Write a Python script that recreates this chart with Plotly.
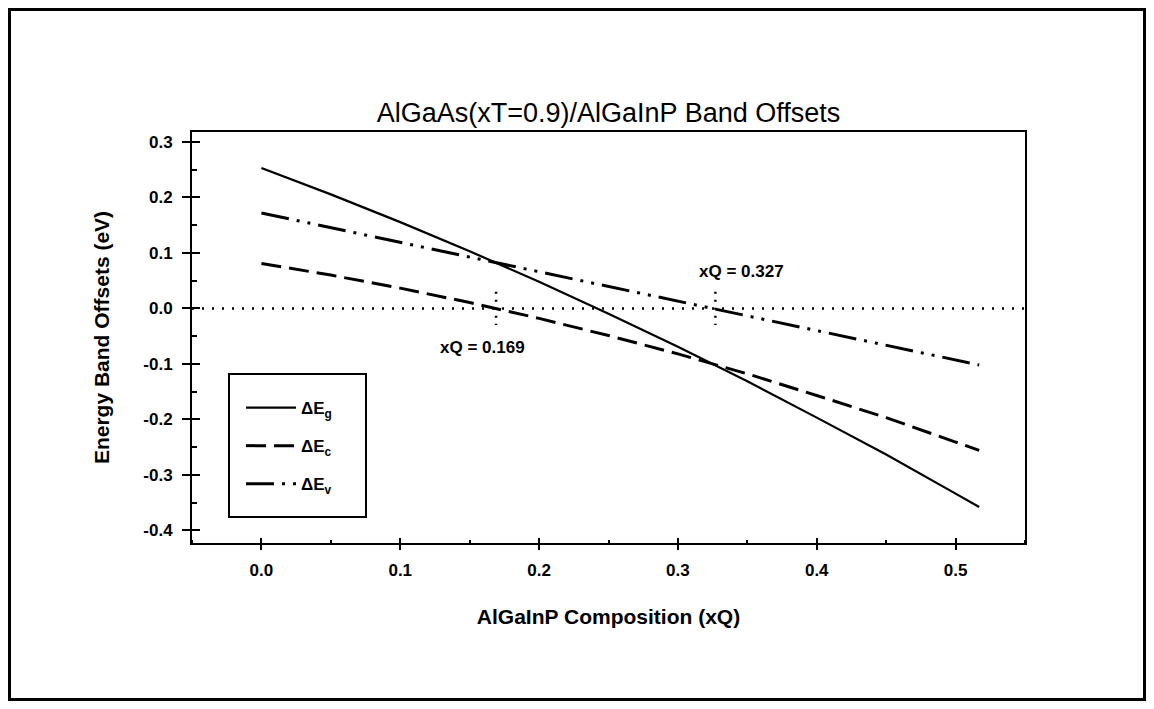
import plotly.graph_objects as go

# ---- data ----
xq = [0.0, 0.05, 0.1, 0.15, 0.2, 0.25, 0.3, 0.35, 0.4, 0.45, 0.5, 0.517]
dEg = [0.253, 0.2055, 0.1555, 0.103, 0.048, -0.0095, -0.069, -0.1315, -0.197, -0.2635, -0.334, -0.358]
dEc = [0.081, 0.060, 0.0365, 0.0105, -0.018, -0.049, -0.082, -0.118, -0.157, -0.197, -0.241, -0.256]
dEv = [0.172, 0.1455, 0.119, 0.0925, 0.066, 0.0395, 0.013, -0.0135, -0.040, -0.0665, -0.093, -0.102]
names = ["ΔE<sub>g</sub>", "ΔE<sub>c</sub>", "ΔE<sub>v</sub>"]

zero_x = [-0.05, 0.55]
zero_y = [0.0, 0.0]
cross_x = [0.169, 0.327]
cross_labels = ["xQ = 0.169", "xQ = 0.327"]
label_pos = [(0.159, -0.07), (0.346, 0.066)]
marker_half = 0.03

x_range = [-0.05, 0.55]
y_range = [-0.423, 0.318]
x_ticks = [0.0, 0.1, 0.2, 0.3, 0.4, 0.5]
x_tick_labels = ["0.0", "0.1", "0.2", "0.3", "0.4", "0.5"]
y_ticks = [-0.4, -0.3, -0.2, -0.1, 0.0, 0.1, 0.2, 0.3]
y_tick_labels = ["-0.4", "-0.3", "-0.2", "-0.1", "0.0", "0.1", "0.2", "0.3"]

FONT = "Liberation Sans, Arial, sans-serif"

# the page body has an 8px default margin; size the figure to fit the window
OFF = 8
FIG_W, FIG_H = 1154 - 2 * OFF, 709 - 2 * OFF

# plot-area box in window pixels
L, R, T, B = 192, 1025, 132, 543
W, H = R - L, B - T


def px(xp):
    return (xp - L) / W


def py(yp):
    return (B - yp) / H


fig = go.Figure()

styles = [
    dict(color="black", width=2.2, dash="solid"),
    dict(color="black", width=3, dash="20px,8px"),
    dict(color="black", width=3, dash="28px,8px,3px,8px,3px,8px"),
]
for i, (vals, nm) in enumerate(zip([dEg, dEc, dEv], names)):
    fig.add_trace(go.Scatter(x=xq, y=vals, mode="lines", name=nm, line=styles[i],
                             legendgroup=f"g{i}", showlegend=True))

# zero reference line (on overlay axes so they render)
fig.add_trace(go.Scatter(x=zero_x, y=zero_y, mode="lines", showlegend=False,
                         line=dict(color="black", width=2.5, dash="2px,8px"),
                         xaxis="x2", yaxis="y2"))
for cx in cross_x:
    fig.add_trace(go.Scatter(x=[cx, cx], y=[marker_half, -marker_half], mode="lines",
                             showlegend=False,
                             line=dict(color="black", width=2.5, dash="2px,6px")))

for txt, (ax, ay) in zip(cross_labels, label_pos):
    fig.add_annotation(x=ax, y=ay, text=txt, showarrow=False,
                       font=dict(family=FONT, size=17, color="black", weight="bold"))

tickfont = dict(family=FONT, size=17, color="black", weight="bold")
common = dict(showline=True, linecolor="black", linewidth=2, mirror=True,
              showgrid=False, zeroline=False, ticks="outside", automargin=False,
              tickcolor="black", tickfont=tickfont)

fig.update_layout(
    width=FIG_W, height=FIG_H,
    margin=dict(l=L - OFF, r=FIG_W - (R - OFF), t=T - OFF, b=FIG_H - (B - OFF), autoexpand=False),
    paper_bgcolor="white", plot_bgcolor="white",
    title=dict(text="AlGaAs(xT=0.9)/AlGaInP Band Offsets", x=0.5, xref="paper",
               y=1 - (113 - OFF) / FIG_H, yref="container", yanchor="middle", xanchor="center",
               font=dict(family=FONT, size=27, color="black")),
    xaxis=dict(range=x_range, tickvals=x_ticks, ticktext=x_tick_labels, ticklen=5, tickwidth=1.5,
               title=dict(text="AlGaInP Composition (xQ)", standoff=30,
                          font=dict(family=FONT, size=21, color="black", weight="bold")),
               ticklabelstandoff=6,
               minor=dict(ticks="inside", ticklen=3, tickwidth=1.5, tickcolor="black", dtick=0.05, tick0=0),
               **common),
    yaxis=dict(range=y_range, tickvals=y_ticks, ticktext=y_tick_labels, ticklen=8, tickwidth=2,
               title=dict(text="Energy Band Offsets (eV)", standoff=28,
                          font=dict(family=FONT, size=21, color="black", weight="bold")),
               ticklabelstandoff=6,
               minor=dict(ticks="inside", ticklen=5, tickwidth=2, tickcolor="black", dtick=0.05, tick0=0),
               **common),
    xaxis2=dict(range=x_range, overlaying="x", anchor="y", tickvals=x_ticks, ticks="inside",
                ticklen=5, tickwidth=1.5, tickcolor="black", showticklabels=False, automargin=False,
                showgrid=False, zeroline=False, showline=False),
    yaxis2=dict(range=y_range, overlaying="y", anchor="x", tickvals=y_ticks, ticks="inside",
                ticklen=8, tickwidth=2, tickcolor="black", showticklabels=False, automargin=False,
                showgrid=False, zeroline=False, showline=False),
    legend=dict(x=px(241), y=py(390), xanchor="left", yanchor="top", bgcolor="rgba(0,0,0,0)",
                borderwidth=0, tracegroupgap=13, itemwidth=50,
                font=dict(family=FONT, size=17, color="black", weight="bold")),
    showlegend=True,
)

# legend frame
fig.add_shape(type="rect", xref="paper", yref="paper",
              x0=px(229), x1=px(366), y0=py(517), y1=py(374),
              line=dict(color="black", width=2), fillcolor="rgba(0,0,0,0)")
# outer page frame (kept just inside the figure)
fig.add_shape(type="rect", xref="paper", yref="paper",
              x0=px(OFF + 1.5), x1=px(OFF + FIG_W - 1.5), y0=py(OFF + FIG_H - 1.5), y1=py(OFF + 1.5),
              line=dict(color="black", width=3), fillcolor="rgba(0,0,0,0)")

fig.write_html("out.html")
